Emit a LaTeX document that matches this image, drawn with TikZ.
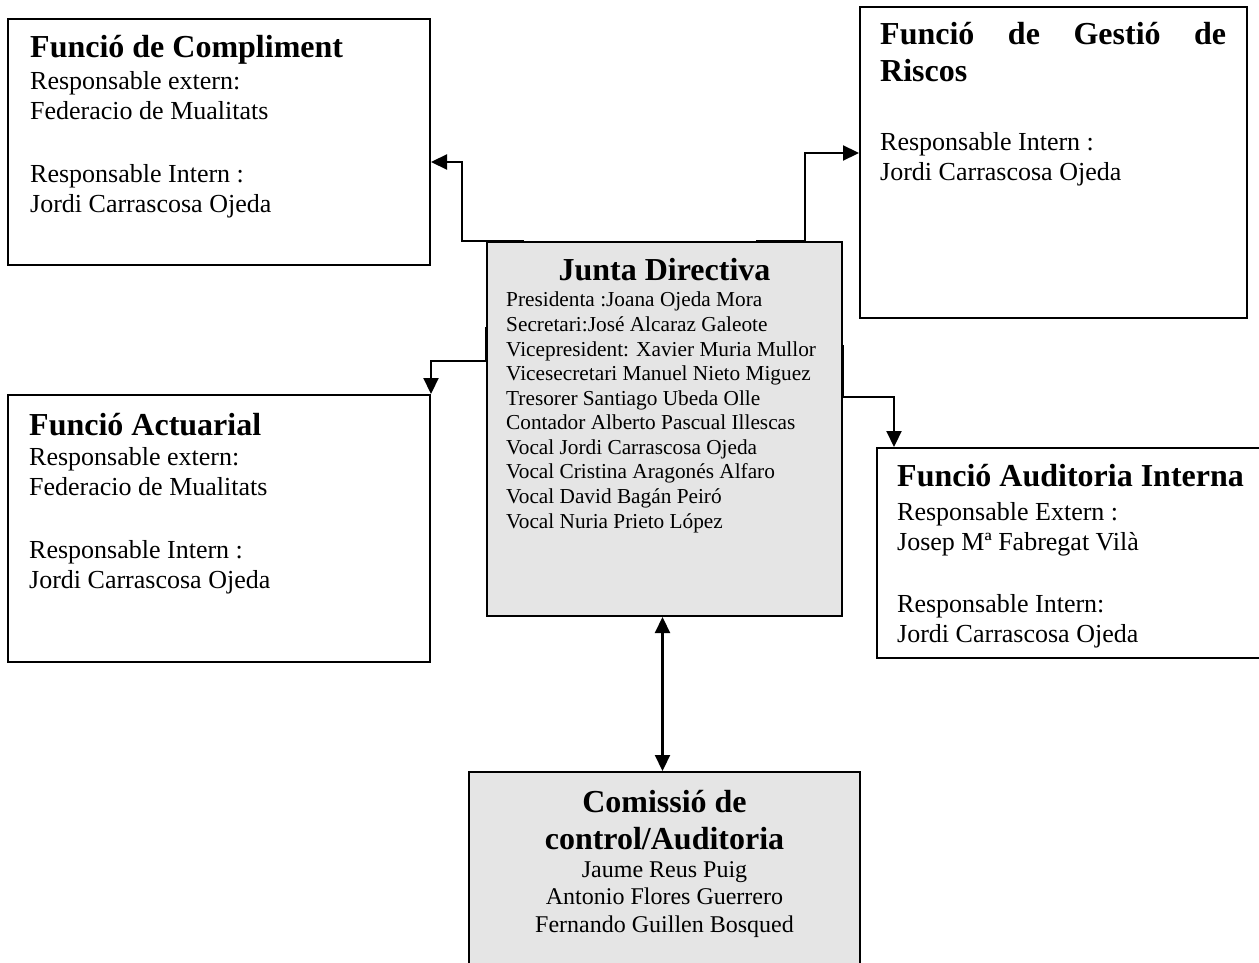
\documentclass[tikz,border=0pt]{standalone}
\usepackage{fontspec}
\setmainfont{Liberation Serif}
\usetikzlibrary{arrows.meta}
\tikzset{
  box/.style={draw, line width=2pt, inner sep=0pt},
  graybox/.style={box, fill=gray!20},
  conn/.style={line width=2.2pt, -{Triangle[length=16pt,width=15pt]}},
  bothconn/.style={line width=2.2pt, {Triangle[length=16pt,width=15pt]}-{Triangle[length=16pt,width=15pt]}},
  ttl/.style={font=\fontsize{32}{37}\selectfont\bfseries, inner sep=0pt, align=left},
  txt/.style={font=\fontsize{26}{30}\selectfont, inner sep=0pt, align=left},
  smalltxt/.style={font=\fontsize{21.3}{24.56}\selectfont, inner sep=0pt, align=left}
}
\begin{document}
\begin{tikzpicture}[x=1pt,y=-1pt]
                \path[use as bounding box, fill=white] (0,0) rectangle (1259,963);
                \node[box, minimum width=422, minimum height=246] (fc) at (219,142) {};
                \node[box, minimum width=387, minimum height=311] (gs) at (1053.5,162.5) {};
                \node[graybox, minimum width=355, minimum height=374] (jd) at (664.5,429) {};
                \node[box, minimum width=422, minimum height=267] (ac) at (219,528.5) {};
                \node[box, minimum width=398, minimum height=210] (ai) at (1076,553) {};
                \node[graybox, minimum width=391, minimum height=213] (cc) at (664.5,878.5) {};
                \draw[conn] ([xshift=38pt]jd.north west) -| ([xshift=31pt,yshift=-20pt]fc.east) -- ([yshift=-20pt]fc.east);
                \draw[conn] ([xshift=-87pt]jd.north east) -| ([xshift=-54pt,yshift=9.5pt]gs.west) -- ([yshift=9.5pt]gs.west);
                \draw[conn] ([yshift=102pt]jd.west) -- ([yshift=68pt]jd.west) -| (ac.north east);
                \draw[conn] ([yshift=84pt]jd.east) -- ([yshift=32pt]jd.east) -| ([xshift=18pt]ai.north west);
                \draw[bothconn] ([xshift=-2pt]jd.south) -- ([xshift=-2pt]cc.north);
                \node[ttl, anchor=base west] (fctitle) at ([xshift=23pt,yshift=-40pt]fc.north west) {Funció de Compliment};
                \node[txt, anchor=base west] (fcbody) at ([xshift=23pt,yshift=-194pt]fc.north west) {Responsable extern:\\Federacio de Mualitats\\[33pt]Responsable Intern :\\Jordi Carrascosa Ojeda};
                \node[ttl, anchor=base west] (gstitle) at ([xshift=21pt,yshift=-76pt]gs.north west) {\makebox[346pt][s]{Funció de Gestió de}\\Riscos};
                \node[txt, anchor=base west] (gsbody) at ([xshift=21pt,yshift=-175pt]gs.north west) {Responsable Intern :\\Jordi Carrascosa Ojeda};
                \node[ttl, anchor=base] (jdtitle) at ([yshift=-39pt]jd.north) {Junta Directiva};
                \node[smalltxt, anchor=base west] (jdbody) at ([xshift=20pt,yshift=-287pt]jd.north west) {Presidenta :Joana Ojeda Mora\\Secretari:José Alcaraz Galeote\\Vicepresident: Xavier Muria Mullor\\Vicesecretari Manuel Nieto Miguez\\Tresorer Santiago Ubeda Olle\\Contador Alberto Pascual Illescas\\Vocal Jordi Carrascosa Ojeda\\Vocal Cristina Aragonés Alfaro\\Vocal David Bagán Peiró\\Vocal Nuria Prieto López};
                \node[ttl, anchor=base west] (actitle) at ([xshift=22pt,yshift=-41pt]ac.north west) {Funció Actuarial};
                \node[txt, anchor=base west] (acbody) at ([xshift=22pt,yshift=-194pt]ac.north west) {Responsable extern:\\Federacio de Mualitats\\[33pt]Responsable Intern :\\Jordi Carrascosa Ojeda};
                \node[ttl, anchor=base west] (aititle) at ([xshift=21pt,yshift=-39pt]ai.north west) {Funció Auditoria Interna};
                \node[txt, anchor=base west] (aibody) at ([xshift=21pt,yshift=-195pt]ai.north west) {Responsable Extern :\\Josep Mª Fabregat Vilà\\[32pt]Responsable Intern:\\Jordi Carrascosa Ojeda};
                \node[ttl, align=center, anchor=base] (cctitle) at ([yshift=-78pt]cc.north) {Comissió de\\control/Auditoria};
                \node[txt, font=\fontsize{24}{27.5}\selectfont, align=center, anchor=base] (ccbody) at ([yshift=-161pt]cc.north) {Jaume Reus Puig\\Antonio Flores Guerrero\\Fernando Guillen Bosqued};
            \end{tikzpicture}
\end{document}
